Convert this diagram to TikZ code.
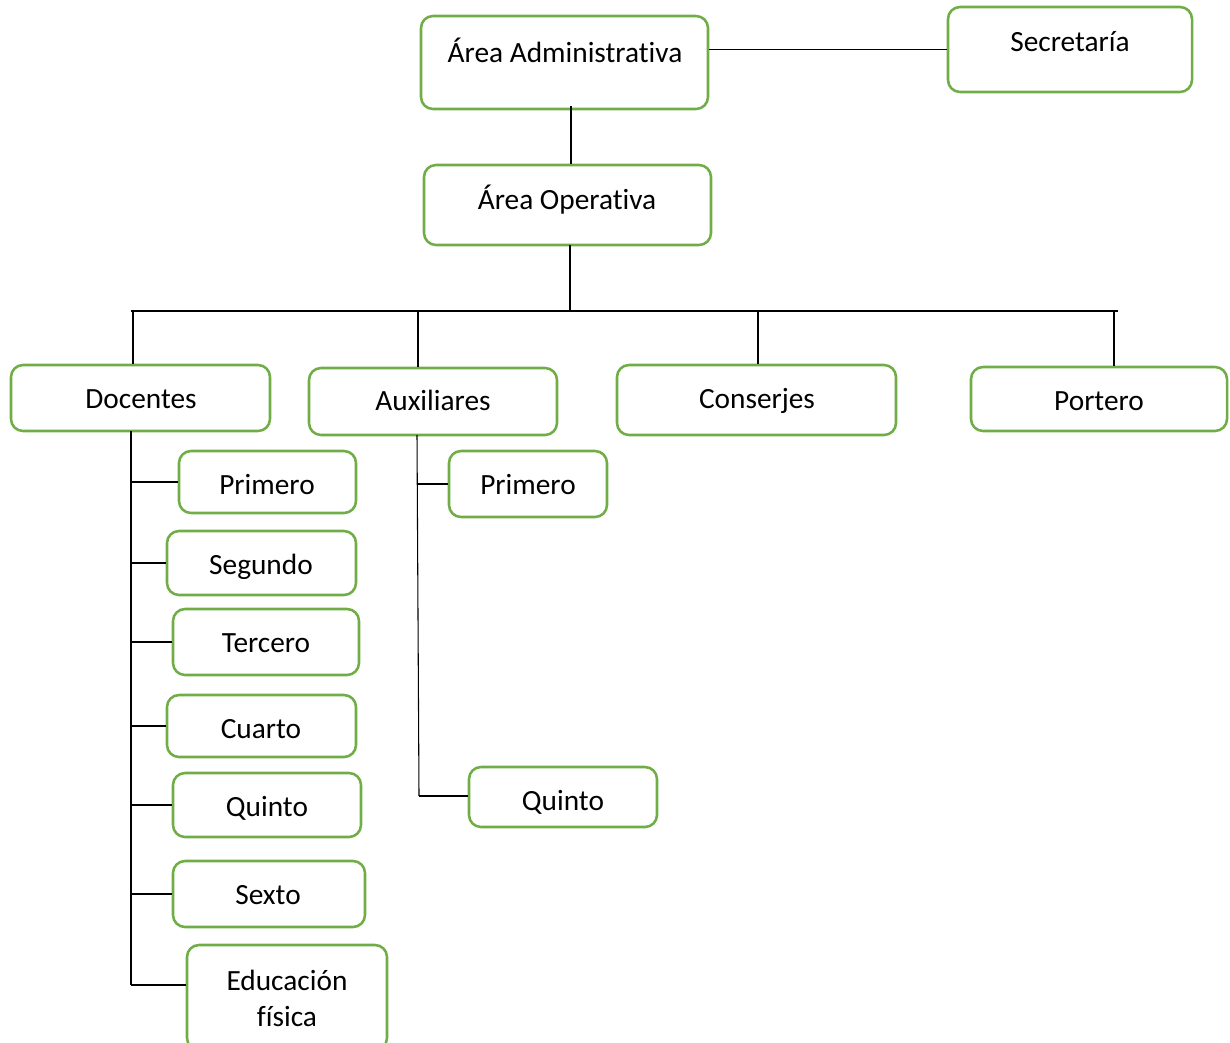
\documentclass[tikz,border=0pt]{standalone}
\usepackage{fontspec}
\setmainfont{Carlito}[Ligatures={NoCommon}]
\definecolor{boxgreen}{RGB}{112,173,71}
\tikzset{
  box/.style={draw=boxgreen, line width=1.9pt, rounded corners=9pt, inner sep=0pt, fill=white},
  lbl/.style={anchor=base, inner sep=0pt, font=\fontsize{22}{26}\selectfont},
  conn/.style={draw=black, line width=0.8pt}
}
\newcommand\bx[5]{\node[box, minimum width={(#4-#2)*0.75pt}, minimum height={(#5-#3)*0.75pt}] (#1) at ({(#2+#4)/2},{(#3+#5)/2}) {};}
\begin{document}
\begin{tikzpicture}[x=0.75pt,y=-0.75pt]
\useasboundingbox (0,0) rectangle (1230,1042);
% boxes
\bx{adm}{421}{16}{708}{109}
\bx{sec}{948}{7}{1192}{92}
\bx{op}{424}{165}{711}{245}
\bx{doc}{11}{365}{270}{431}
\bx{aux}{309}{368}{557}{435}
\bx{con}{617}{365}{896}{435}
\bx{por}{971}{367}{1227}{431}
\bx{dp1}{179}{451}{356}{513}
\bx{dp2}{167}{531}{356}{595}
\bx{dp3}{173}{609}{359}{675}
\bx{dp4}{167}{695}{356}{757}
\bx{dp5}{173}{773}{361}{837}
\bx{dp6}{173}{861}{365}{927}
\bx{dp7}{187}{945}{387}{1050}
\bx{ap1}{449}{451}{607}{517}
\bx{ap5}{469}{767}{657}{827}
% labels
\node[lbl] (adm-t) at (565,62) {Área Administrativa};
\node[lbl] (sec-t) at (1070,51) {Secretaría};
\node[lbl] (op-t) at (567,209) {Área Operativa};
\node[lbl] (doc-t) at (141,408) {Docentes};
\node[lbl] (aux-t) at (433,410) {Auxiliares};
\node[lbl] (con-t) at (757,408) {Conserjes};
\node[lbl] (por-t) at (1099,410) {Portero};
\node[lbl] (dp1-t) at (267,494) {Primero};
\node[lbl] (dp2-t) at (261,574) {Segundo};
\node[lbl] (dp3-t) at (266,652) {Tercero};
\node[lbl] (dp4-t) at (261,738) {Cuarto};
\node[lbl] (dp5-t) at (267,816) {Quinto};
\node[lbl] (dp6-t) at (268,904) {Sexto};
\node[lbl] (dp7-t) at (287,990) {Educación};
\node[lbl] (dp7-u) at (287,1026) {física};
\node[lbl] (ap1-t) at (528,494) {Primero};
\node[lbl] (ap5-t) at (563,810) {Quinto};
% connectors
\draw[conn] (adm.east |- sec.west) -- (sec.west);
\coordinate (admb) at (571,106);
\draw[conn] (admb) -- (admb |- op.north);
\coordinate (busL) at (131,311);
\coordinate (busR) at (1118,311);
\draw[conn] (busL) -- (busR);
\coordinate (opb) at (570,245);
\draw[conn] (opb) -- (opb |- busL);
\coordinate (d1) at (133,311);
\coordinate (d2) at (418,311);
\coordinate (d3) at (758,311);
\coordinate (d4) at (1114,311);
\draw[conn] (d1) -- (d1 |- doc.north);
\draw[conn] (d2) -- (d2 |- aux.north);
\draw[conn] (d3) -- (d3 |- con.north);
\draw[conn] (d4) -- (d4 |- por.north);
% docentes spine
\coordinate (ds) at (131,431);
\coordinate (dsb) at (131,985);
\draw[conn] (ds) -- (dsb);
\foreach \b in {dp1,dp2,dp3,dp4,dp5,dp6}{\draw[conn] (ds |- \b.west) -- (\b.west);}
\draw[conn] (dsb) -- (dsb -| dp7.west);
% auxiliares spine
\coordinate (as) at (417,435);
\coordinate (asb) at (419,796);
\draw[conn] (as) -- (asb);
\draw[conn] (as |- ap1.west) -- (ap1.west);
\draw[conn] (asb) -- (asb -| ap5.west);
\end{tikzpicture}
\end{document}
